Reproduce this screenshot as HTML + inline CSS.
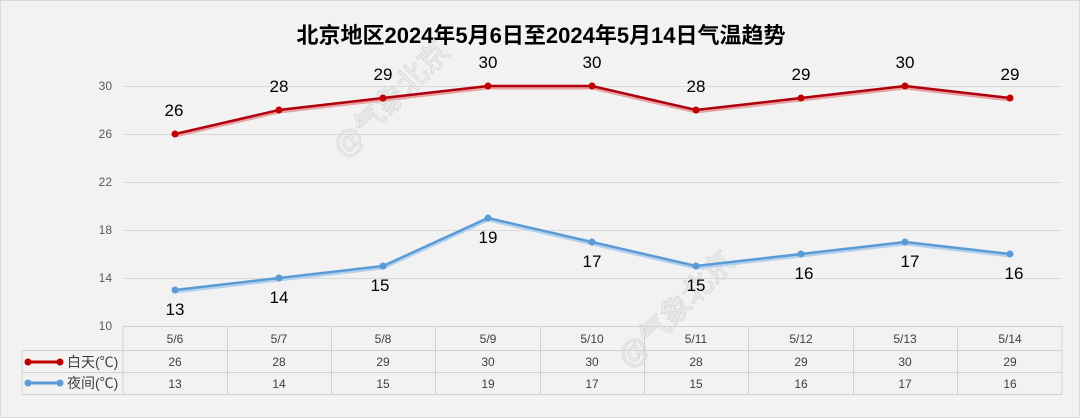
<!DOCTYPE html>
<html><head><meta charset="utf-8"><style>
body{margin:0;background:#fff}
svg{display:block}
text{font-family:"Liberation Sans","Noto Sans CJK SC",sans-serif}
</style></head><body>
<svg width="1080" height="418" viewBox="0 0 1080 418">
<rect x="0.5" y="0.5" width="1079" height="417" fill="#f2f2f2" stroke="#d9d9d9"/>
<text x="541" y="43" text-anchor="middle" font-size="22" font-weight="bold" fill="#000">北京地区2024年5月6日至2024年5月14日气温趋势</text>
<g stroke="#d9d9d9" stroke-width="1">
<line x1="123" y1="86.5" x2="1062" y2="86.5"/>
<line x1="123" y1="134.5" x2="1062" y2="134.5"/>
<line x1="123" y1="182.5" x2="1062" y2="182.5"/>
<line x1="123" y1="230.5" x2="1062" y2="230.5"/>
<line x1="123" y1="278.5" x2="1062" y2="278.5"/>
</g>
<g font-size="12" fill="#595959" text-anchor="end">
<text x="112" y="90">30</text><text x="112" y="138">26</text><text x="112" y="186">22</text>
<text x="112" y="234">18</text><text x="112" y="282">14</text><text x="112" y="330">10</text>
</g>
<g stroke="#d0d0d0" fill="none">
<rect x="123" y="326.5" width="939" height="68"/>
<rect x="22" y="350.5" width="101" height="44"/>
<line x1="22" y1="372.5" x2="1062" y2="372.5"/>
<line x1="123" y1="350.5" x2="1062" y2="350.5"/>
<line x1="227.5" y1="326" x2="227.5" y2="395"/><line x1="331.5" y1="326" x2="331.5" y2="395"/>
<line x1="435.5" y1="326" x2="435.5" y2="395"/><line x1="540.5" y1="326" x2="540.5" y2="395"/>
<line x1="644.5" y1="326" x2="644.5" y2="395"/><line x1="748.5" y1="326" x2="748.5" y2="395"/>
<line x1="853.5" y1="326" x2="853.5" y2="395"/><line x1="957.5" y1="326" x2="957.5" y2="395"/>
</g>
<g font-size="12" fill="#404040" text-anchor="middle">
<text x="175" y="343">5/6</text><text x="279" y="343">5/7</text><text x="383" y="343">5/8</text><text x="488" y="343">5/9</text><text x="592" y="343">5/10</text><text x="696" y="343">5/11</text><text x="801" y="343">5/12</text><text x="905" y="343">5/13</text><text x="1010" y="343">5/14</text>
<text x="175" y="366">26</text><text x="279" y="366">28</text><text x="383" y="366">29</text><text x="488" y="366">30</text><text x="592" y="366">30</text><text x="696" y="366">28</text><text x="801" y="366">29</text><text x="905" y="366">30</text><text x="1010" y="366">29</text>
<text x="175" y="388">13</text><text x="279" y="388">14</text><text x="383" y="388">15</text><text x="488" y="388">19</text><text x="592" y="388">17</text><text x="696" y="388">15</text><text x="801" y="388">16</text><text x="905" y="388">17</text><text x="1010" y="388">16</text>
</g>
<line x1="28" y1="362" x2="60" y2="362" stroke="#c00000" stroke-width="3"/><circle cx="28" cy="362" r="3.5" fill="#c00000"/><circle cx="60" cy="362" r="3.5" fill="#c00000"/>
<line x1="28" y1="383" x2="60" y2="383" stroke="#5b9bd5" stroke-width="3"/><circle cx="28" cy="383" r="3.5" fill="#5b9bd5"/><circle cx="60" cy="383" r="3.5" fill="#5b9bd5"/>
<text x="67" y="367" font-size="14" fill="#404040">白天(℃)</text>
<text x="67" y="388" font-size="14" fill="#404040">夜间(℃)</text>
<g font-size="30" fill="none" stroke="#d8d8d8" stroke-width="1">
<text transform="translate(345,160) rotate(-45)">@气象北京</text>
<text transform="translate(630,370) rotate(-45)">@气象北京</text>
</g>
<polyline points="175,136 279,112 383,100 488,88 592,88 696,112 801,100 905,88 1010,100" fill="none" stroke="#e8a0a0" stroke-width="3"/>
<polyline points="175,134 279,110 383,98 488,86 592,86 696,110 801,98 905,86 1010,98" fill="none" stroke="#b00010" stroke-width="2.5"/>
<g fill="#c00000"><circle cx="175" cy="134" r="3.5"/><circle cx="279" cy="110" r="3.5"/><circle cx="383" cy="98" r="3.5"/><circle cx="488" cy="86" r="3.5"/><circle cx="592" cy="86" r="3.5"/><circle cx="696" cy="110" r="3.5"/><circle cx="801" cy="98" r="3.5"/><circle cx="905" cy="86" r="3.5"/><circle cx="1010" cy="98" r="3.5"/></g>
<polyline points="175,292 279,280 383,268 488,220 592,244 696,268 801,256 905,244 1010,256" fill="none" stroke="#b4d0ec" stroke-width="3"/>
<polyline points="175,290 279,278 383,266 488,218 592,242 696,266 801,254 905,242 1010,254" fill="none" stroke="#5b9bd5" stroke-width="2.5"/>
<g fill="#5b9bd5"><circle cx="175" cy="290" r="3.5"/><circle cx="279" cy="278" r="3.5"/><circle cx="383" cy="266" r="3.5"/><circle cx="488" cy="218" r="3.5"/><circle cx="592" cy="242" r="3.5"/><circle cx="696" cy="266" r="3.5"/><circle cx="801" cy="254" r="3.5"/><circle cx="905" cy="242" r="3.5"/><circle cx="1010" cy="254" r="3.5"/></g>
<g font-size="17" fill="#000" text-anchor="middle">
<text x="174" y="116">26</text><text x="279" y="92">28</text><text x="383" y="80">29</text><text x="488" y="68">30</text><text x="592" y="68">30</text><text x="696" y="92">28</text><text x="801" y="80">29</text><text x="905" y="68">30</text><text x="1010" y="80">29</text>
<text x="175" y="315">13</text><text x="279" y="303">14</text><text x="380" y="291">15</text><text x="488" y="243">19</text><text x="592" y="267">17</text><text x="696" y="291">15</text><text x="804" y="279">16</text><text x="910" y="267">17</text><text x="1014" y="279">16</text>
</g>
</svg>
</body></html>
